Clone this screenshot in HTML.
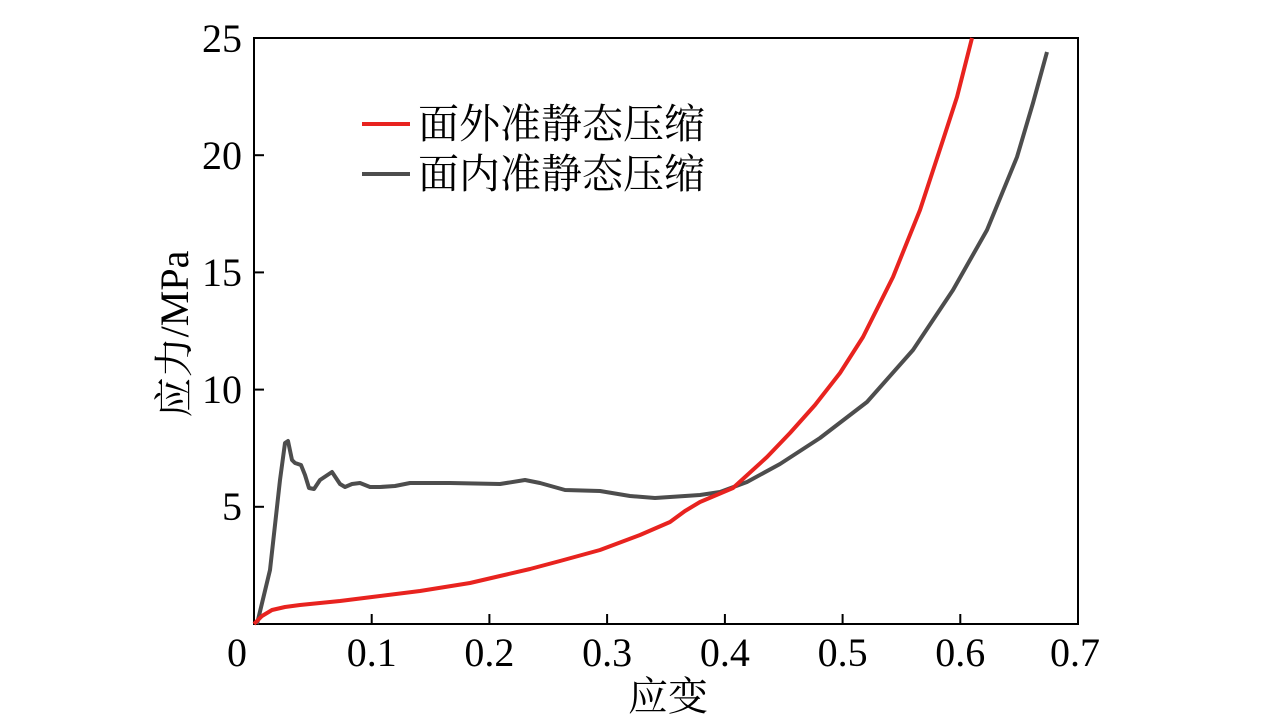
<!DOCTYPE html>
<html><head><meta charset="utf-8"><style>
body{margin:0;background:#fff;width:1276px;height:723px;overflow:hidden}
text{font-family:"Liberation Serif","Noto Serif CJK SC",serif}
</style></head><body>
<svg width="1276" height="723" viewBox="0 0 1276 723">
<rect x="254" y="38" width="824" height="586" fill="none" stroke="#000" stroke-width="2"/>
<g stroke="#000" stroke-width="2">
<line x1="371.7" y1="624" x2="371.7" y2="614"/><line x1="489.4" y1="624" x2="489.4" y2="614"/>
<line x1="607.1" y1="624" x2="607.1" y2="614"/><line x1="724.9" y1="624" x2="724.9" y2="614"/>
<line x1="842.6" y1="624" x2="842.6" y2="614"/><line x1="960.3" y1="624" x2="960.3" y2="614"/>
<line x1="254" y1="506.8" x2="264" y2="506.8"/><line x1="254" y1="389.6" x2="264" y2="389.6"/>
<line x1="254" y1="272.4" x2="264" y2="272.4"/><line x1="254" y1="155.2" x2="264" y2="155.2"/>
</g>
<g font-size="40" text-anchor="middle">
<text x="237" y="666">0</text><text x="371.7" y="666">0.1</text><text x="489.4" y="666">0.2</text>
<text x="607.1" y="666">0.3</text><text x="724.9" y="666">0.4</text><text x="842.6" y="666">0.5</text>
<text x="960.3" y="666">0.6</text><text x="1075" y="666">0.7</text>
</g>
<g font-size="40" text-anchor="end">
<text x="242" y="520">5</text><text x="242" y="403">10</text><text x="242" y="286">15</text>
<text x="242" y="169">20</text><text x="242" y="52">25</text>
</g>
<text x="668" y="710" font-size="40" text-anchor="middle">应变</text>
<text transform="translate(188,334) rotate(-90)" font-size="40" text-anchor="middle">应力/MPa</text>
<polyline fill="none" stroke="#4d4d4d" stroke-width="4" stroke-linejoin="round" points="257,624 270,570 280,480 285,443 288,441 292,460 295,463 301,465 305,475 309,488 314,489 320,480 332,472 340,484 345,487 352,484 360,483 370,487 380,487 395,486 410,483 450,483 500,484 525,480 540,483 565,490 600,491 630,496 655,498 700,495 720,492 747,482 780,464 820,438 867,402 913,350 953,290 987,230 1017,157 1033,103 1047,52"/>
<polyline fill="none" stroke="#e8231f" stroke-width="4" stroke-linejoin="round" points="254,624 262,616 272,610 285,607 300,605 340,601 372,597 420,591 470,583 500,576 530,569 560,561 600,550 640,535 670,522 685,511 700,502 733,488 767,457 790,433 815,405 840,373 863,337 893,277 920,210 943,140 957,97 972,38"/>
<line x1="362" y1="124" x2="410" y2="124" stroke="#e8231f" stroke-width="4"/>
<line x1="362" y1="174" x2="410" y2="174" stroke="#4d4d4d" stroke-width="4"/>
<text x="418" y="138" font-size="41">面外准静态压缩</text>
<text x="418" y="188" font-size="41">面内准静态压缩</text>
</svg>
</body></html>
